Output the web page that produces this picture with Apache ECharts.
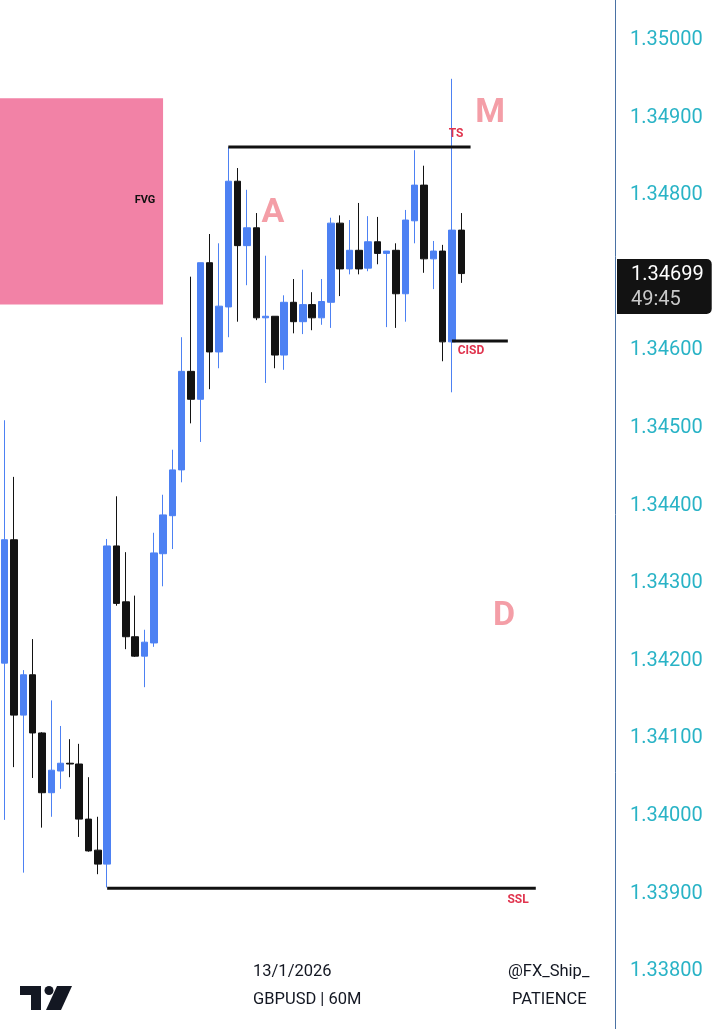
<!DOCTYPE html>
<html>
<head>
<meta charset="utf-8">
<title>GBPUSD 60M</title>
<script src="https://cdn.jsdelivr.net/npm/echarts@6/dist/echarts.min.js"></script>
<style>
  html, body { margin: 0; padding: 0; background: #ffffff; }
  #chart { width: 718px; height: 1029px; }
</style>
</head>
<body>
<div id="chart"></div>
<script>
// 60M candles: [open, close, low, high]
const candles = [
  [1.34197, 1.34356, 1.33995, 1.34510],
  [1.34356, 1.34130, 1.34063, 1.34437],
  [1.34130, 1.34182, 1.33927, 1.34188],
  [1.34182, 1.34107, 1.34049, 1.34228],
  [1.34107, 1.34030, 1.33985, 1.34108],
  [1.34030, 1.34059, 1.33999, 1.34149],
  [1.34058, 1.34068, 1.34035, 1.34116],
  [1.34068, 1.34067, 1.34050, 1.34099],
  [1.34067, 1.33996, 1.33973, 1.34093],
  [1.33996, 1.33955, 1.33954, 1.34050],
  [1.33956, 1.33938, 1.33925, 1.33999],
  [1.33938, 1.34348, 1.33908, 1.34357],
  [1.34348, 1.34274, 1.34271, 1.34412],
  [1.34276, 1.34231, 1.34215, 1.34340],
  [1.34231, 1.34206, 1.34205, 1.34284],
  [1.34206, 1.34224, 1.34166, 1.34240],
  [1.34223, 1.34339, 1.34218, 1.34365],
  [1.34338, 1.34388, 1.34296, 1.34414],
  [1.34387, 1.34446, 1.34344, 1.34472],
  [1.34446, 1.34573, 1.34430, 1.34617],
  [1.34573, 1.34537, 1.34506, 1.34695],
  [1.34537, 1.34713, 1.34482, 1.34713],
  [1.34713, 1.34598, 1.34550, 1.34750],
  [1.34598, 1.34657, 1.34577, 1.34738],
  [1.34656, 1.34818, 1.34617, 1.34862],
  [1.34818, 1.34735, 1.34637, 1.34835],
  [1.34735, 1.34758, 1.34684, 1.34807],
  [1.34758, 1.34642, 1.34639, 1.34777],
  [1.34642, 1.34644, 1.34558, 1.34722],
  [1.34644, 1.34594, 1.34577, 1.34644],
  [1.34594, 1.34662, 1.34575, 1.34671],
  [1.34662, 1.34637, 1.34622, 1.34692],
  [1.34637, 1.34659, 1.34621, 1.34704],
  [1.34659, 1.34642, 1.34626, 1.34675],
  [1.34642, 1.34663, 1.34633, 1.34692],
  [1.34662, 1.34764, 1.34629, 1.34771],
  [1.34764, 1.34705, 1.34670, 1.34774],
  [1.34705, 1.34729, 1.34698, 1.34768],
  [1.34729, 1.34705, 1.34698, 1.34790],
  [1.34706, 1.34740, 1.34702, 1.34773],
  [1.34740, 1.34725, 1.34711, 1.34772],
  [1.34725, 1.34728, 1.34630, 1.34728],
  [1.34729, 1.34673, 1.34629, 1.34738],
  [1.34673, 1.34768, 1.34637, 1.34781],
  [1.34767, 1.34813, 1.34738, 1.34858],
  [1.34813, 1.34718, 1.34700, 1.34838],
  [1.34718, 1.34728, 1.34679, 1.34741],
  [1.34728, 1.34611, 1.34586, 1.34736],
  [1.34611, 1.34755, 1.34546, 1.34950],
  [1.34755, 1.34699, 1.34687, 1.34777]
]

// empty hour slots after the last candle (chart is scrolled right)
const slotCount = 66
const slots = Array.from({ length: slotCount }, (_, i) => String(i))

// horizontal levels: name, price, first candle index, last candle index
const levelNames = ['TS', 'CISD', 'SSL']
const levelPrices = [1.34862, 1.34612, 1.33907]
const levelFrom = [24, 48, 11]
const levelTo = [50, 54, 57]

// fair value gap box
const fvgTop = 1.34925
const fvgBottom = 1.34659
const fvgEndSlot = 17.5

// price scale
const priceMin = 1.337
const priceMax = 1.351
const priceStep = 0.001

const lastPrice = 1.34699
const countdown = '49:45'

const BLUE = '#4d81f3'
const BLACK = '#131313'
const RED = '#e0344e'
const PINK = '#f49ea7'
const FONT = 'Roboto, "Noto Sans", sans-serif'

const chart = echarts.init(document.getElementById('chart'))

const levelSeries = levelNames.map((name, i) => ({
  name: name,
  type: 'line',
  xAxisIndex: 1,
  symbol: 'none',
  silent: true,
  z: 4,
  lineStyle: { color: '#111111', width: 3 },
  data: [[levelFrom[i] + 0.5, levelPrices[i]], [levelTo[i] + 0.5, levelPrices[i]]]
}))

const textSeries = (data, style) => ({
  type: 'scatter',
  xAxisIndex: 1,
  symbolSize: 0,
  silent: true,
  clip: false,
  z: 6,
  itemStyle: { opacity: 1 },
  data: data,
  label: Object.assign({
    show: true,
    position: 'inside',
    fontFamily: FONT,
    formatter: p => p.value[2]
  }, style)
})

const option = {
  animation: false,
  backgroundColor: '#ffffff',
  grid: { left: 0, right: 103, top: -37.6, bottom: -19.8, outerBoundsMode: 'none', containLabel: false },
  xAxis: [
    { type: 'category', data: slots, show: false, boundaryGap: true },
    { type: 'value', min: 0, max: slotCount, show: false }
  ],
  yAxis: {
    type: 'value',
    position: 'right',
    min: priceMin,
    max: priceMax,
    interval: priceStep,
    axisLine: { show: true, onZero: false, lineStyle: { color: '#4a72a4', width: 1 } },
    axisTick: { show: false },
    splitLine: { show: false },
    axisLabel: {
      margin: 15,
      color: '#29b3c6',
      fontSize: 20,
      fontFamily: FONT,
      formatter: v => v.toFixed(5)
    }
  },
  series: [
    {
      type: 'line',
      xAxisIndex: 1,
      symbol: 'none',
      silent: true,
      data: [[0, fvgTop], [fvgEndSlot, fvgTop]],
      lineStyle: { opacity: 0 },
      markArea: {
        silent: true,
        itemStyle: { color: '#f282a6' },
        data: [[{ coord: [0, fvgTop] }, { coord: [fvgEndSlot, fvgBottom] }]]
      },
      z: 1
    },
    {
      type: 'candlestick',
      data: candles,
      barWidth: 7,
      z: 3,
      itemStyle: {
        color: BLUE,
        color0: BLACK,
        borderColor: BLUE,
        borderColor0: BLACK,
        borderWidth: 1
      }
    },
    ...levelSeries,
    textSeries([[48.94, 1.34879, 'TS'], [50.55, 1.34599, 'CISD'], [55.6, 1.33892, 'SSL']],
      { color: RED, fontSize: 12, fontWeight: 'bold' }),
    textSeries([[15.56, 1.34793, 'FVG']],
      { color: '#111111', fontSize: 11, fontWeight: 'bold' }),
    textSeries([[52.6, 1.34905, 'M'], [29.3, 1.34777, 'A'], [54.1, 1.34257, 'D']],
      { color: PINK, fontSize: 34, fontWeight: 'bold' }),
    // current price tag on the scale
    {
      type: 'scatter',
      xAxisIndex: 1,
      symbolSize: 0,
      silent: true,
      clip: false,
      z: 8,
      itemStyle: { opacity: 1 },
      data: [[slotCount, lastPrice]],
      label: {
        show: true,
        position: 'right',
        distance: 2,
        offset: [0, 13],
        backgroundColor: '#121212',
        borderRadius: [0, 5, 5, 0],
        padding: [3, 8, 2, 14],
        formatter: () => '{p|' + lastPrice.toFixed(5) + '}\n{t|' + countdown + '}',
        rich: {
          p: { color: '#ffffff', fontSize: 20, lineHeight: 25, fontFamily: FONT },
          t: { color: '#c9c9c9', fontSize: 20, lineHeight: 25, fontFamily: FONT }
        }
      }
    }
  ],
  graphic: [
    // TradingView mark
    { type: 'rect', shape: { x: 20, y: 986, width: 21, height: 9 }, style: { fill: '#131722' } },
    { type: 'rect', shape: { x: 31, y: 986, width: 10, height: 24 }, style: { fill: '#131722' } },
    { type: 'circle', shape: { cx: 49, cy: 990.5, r: 4.5 }, style: { fill: '#131722' } },
    { type: 'polygon', shape: { points: [[57, 986], [72, 986], [61, 1010], [46, 1010]] }, style: { fill: '#131722' } },
    { type: 'text', left: 253, top: 963, style: { text: '13/1/2026', fill: '#131722', font: '16.5px ' + FONT } },
    { type: 'text', left: 253, top: 991, style: { text: 'GBPUSD | 60M', fill: '#131722', font: '16.5px ' + FONT } },
    { type: 'text', left: 508, top: 963, style: { text: '@FX_Ship_', fill: '#131722', font: '16.5px ' + FONT } },
    { type: 'text', left: 512, top: 991, style: { text: 'PATIENCE', fill: '#131722', font: '16.5px ' + FONT } }
  ]
}

chart.setOption(option)
</script>
</body>
</html>
